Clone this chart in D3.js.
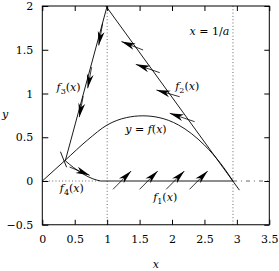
<!DOCTYPE html>
<html>
<head>
<meta charset="utf-8">
<script src="https://cdn.jsdelivr.net/npm/d3@7"></script>
<style>
  html, body { margin: 0; padding: 0; background: #fff; }
  svg { display: block; }
</style>
</head>
<body>
<svg id="chart" width="279" height="271"></svg>
<script>
// ---- data ----
var xTicks = [0, 0.5, 1, 1.5, 2, 2.5, 3, 3.5];
var yTicks = [-0.5, 0, 0.5, 1, 1.5, 2];
var xTickLabels = ['0', '0.5', '1', '1.5', '2', '2.5', '3', '3.5'];
var yTickLabels = ['\u22120.5', '0', '0.5', '1', '1.5', '2'];

var invA = 2.94;   // x = 1/a

var fCurve = [[0, 0], [0.35, 0.235], [0.7, 0.47], [1.0, 0.64], [1.3, 0.725], [1.55, 0.745],
              [1.8, 0.725], [2.1, 0.64], [2.5, 0.41], [2.75, 0.2], [2.94, 0]];
var f4Curve = [[0.354, 0.232], [0.48, 0.155], [0.63, 0.08], [0.78, 0.025], [0.9, 0]];
var f1Line = [[0.9, 0], [2.94, 0]];
var f2Line = [[0.98, 2.0], [3.04, -0.105]];
var f3Line = [[1.0, 2.0], [0.354, 0.23]];
var crossStroke = [[0.28, 0.335], [0.375, 0.157]];

// arrows: [tailX, tailY, tipX, tipY]
var f3Arrows = [[0.93, 1.80, 0.87, 1.55], [0.76, 1.30, 0.70, 1.06], [0.63, 0.97, 0.57, 0.73]];
var f2Arrows = [[1.554, 1.497, 1.22, 1.594], [1.811, 1.238, 1.442, 1.333],
                [2.118, 0.963, 1.76, 1.04], [2.349, 0.678, 1.965, 0.774]];
var f1Arrows = [[1.09, -0.095, 1.37, 0.114], [1.50, -0.095, 1.78, 0.114],
                [1.91, -0.095, 2.19, 0.114], [2.27, -0.095, 2.55, 0.114]];
var f4Arrows = [[0.42, 0.16, 0.73, 0.065]];

var labels = [
  { x: 2.27, y: 1.67, html: 'x = 1/a' },
  { x: 2.05, y: 1.04, sub: '2' },
  { x: 0.22, y: 1.03, sub: '3' },
  { x: 1.28, y: 0.55, html: 'y = f(x)' },
  { x: 0.27, y: -0.125, sub: '4' },
  { x: 1.71, y: -0.225, sub: '1' }
];

// ---- drawing ----
var FONT = 'DejaVu Serif';
var svg = d3.select('#chart');
var margin = { left: 42.3, top: 6, right: 9.7, bottom: 46.25 };
var W = 279 - margin.left - margin.right,
    H = 271 - margin.top - margin.bottom;

var x = d3.scaleLinear().domain([0, 3.5]).range([0, W]);
var y = d3.scaleLinear().domain([-0.5, 2]).range([H, 0]);

var g = svg.append('g').attr('transform', 'translate(' + margin.left + ',' + margin.top + ')');

var line = d3.line().x(function(d){ return x(d[0]); }).y(function(d){ return y(d[1]); });

function guide(x1, x2, y1, y2, dash){
  g.append('line').attr('x1', x1).attr('x2', x2).attr('y1', y1).attr('y2', y2)
    .attr('stroke', '#666').attr('stroke-width', 1).attr('stroke-dasharray', dash);
}
// dotted guides
guide(x(1), x(1), 0, H, '1,2.3');
guide(x(invA), x(invA), 0, H, '1,2.3');
guide(x(0), x(0.9), y(0), y(0), '1,2.3');
guide(x(invA), x(3.5), y(0), y(0), '4,4,1,4');

// frame + ticks
g.append('rect').attr('width', W).attr('height', H)
  .attr('fill', 'none').attr('stroke', '#000').attr('stroke-width', 1);

var axB = d3.axisBottom(x).tickValues(xTicks).tickSize(-5).tickPadding(10)
  .tickFormat(function(d, i){ return xTickLabels[i]; });
var axL = d3.axisLeft(y).tickValues(yTicks).tickSize(-6).tickPadding(9)
  .tickFormat(function(d, i){ return yTickLabels[i]; });
var axT = d3.axisTop(x).tickValues(xTicks).tickSize(-5).tickFormat('');
var axR = d3.axisRight(y).tickValues(yTicks).tickSize(-5).tickFormat('');

[[axB, 'translate(0,' + H + ')'], [axL, null], [axT, null], [axR, 'translate(' + W + ',0)']]
  .forEach(function(a){
    var ax = g.append('g').call(a[0]);
    if (a[1]) ax.attr('transform', a[1]);
    ax.attr('font-family', FONT).attr('font-size', 11);
    ax.select('.domain').remove();
    ax.selectAll('line').attr('stroke', '#000');
    ax.selectAll('text').attr('fill', '#000');
  });

// curves
var curve = d3.line().x(function(d){ return x(d[0]); }).y(function(d){ return y(d[1]); })
  .curve(d3.curveMonotoneX);
g.append('path').attr('d', curve(fCurve)).attr('fill', 'none').attr('stroke', '#000').attr('stroke-width', 0.9);
g.append('path').attr('d', curve(f4Curve)).attr('fill', 'none').attr('stroke', '#000').attr('stroke-width', 0.9);
[f1Line, f2Line, f3Line, crossStroke].forEach(function(l){
  g.append('path').attr('d', line(l)).attr('fill', 'none').attr('stroke', '#000').attr('stroke-width', 0.9);
});

// arrows
function arrow(t){
  var x0 = x(t[0]), y0 = y(t[1]), x1 = x(t[2]), y1 = y(t[3]);
  var ang = Math.atan2(y1 - y0, x1 - x0) * 180 / Math.PI;
  g.append('line').attr('x1', x0).attr('y1', y0).attr('x2', x1).attr('y2', y1)
    .attr('stroke', '#000').attr('stroke-width', 0.8);
  g.append('path').attr('d', 'M0,0 L-14,-3.4 L-10,0 L-14,3.4 Z')
    .attr('transform', 'translate(' + x1 + ',' + y1 + ') rotate(' + ang + ')')
    .attr('fill', '#000');
}
f3Arrows.forEach(arrow);
f2Arrows.forEach(arrow);
f1Arrows.forEach(arrow);
f4Arrows.forEach(arrow);

// labels
labels.forEach(function(l){
  var t = g.append('text').attr('x', x(l.x)).attr('y', y(l.y))
    .attr('font-family', FONT).attr('font-size', 11);
  if (l.html) {
    l.html.split(/([a-z])/).forEach(function(p){
      if (!p) return;
      t.append('tspan').text(p).attr('font-style', /[a-z]/.test(p) ? 'italic' : 'normal');
    });
  } else {
    t.append('tspan').text('f').attr('font-style', 'italic');
    t.append('tspan').text(l.sub).attr('dy', 3).attr('font-size', 8);
    t.append('tspan').text('(').attr('dy', -3);
    t.append('tspan').text('x').attr('font-style', 'italic');
    t.append('tspan').text(')');
  }
});

// axis titles
g.append('text').attr('x', x(1.75)).attr('y', H + 43).attr('text-anchor', 'middle')
  .attr('font-family', FONT).attr('font-size', 11).attr('font-style', 'italic').text('x');
svg.append('text').attr('x', 5).attr('y', y(0.75) + margin.top + 3).attr('text-anchor', 'middle')
  .attr('font-family', FONT).attr('font-size', 11).attr('font-style', 'italic').text('y');
</script>
</body>
</html>
